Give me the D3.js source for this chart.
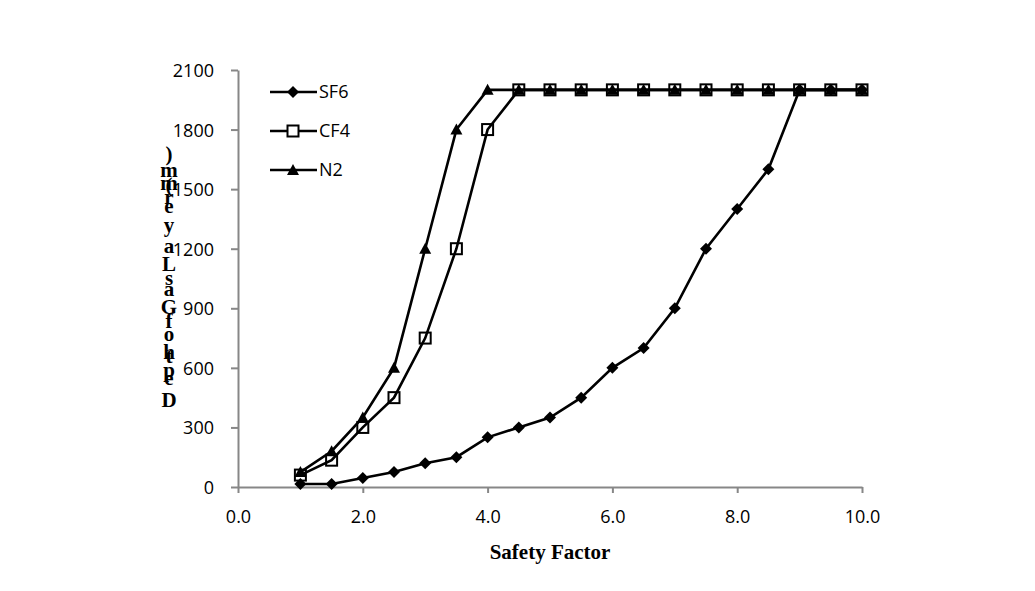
<!DOCTYPE html>
<html><head><meta charset="utf-8">
<script src="https://cdn.jsdelivr.net/npm/d3@7"></script>
<style>body{margin:0;background:#fff}</style>
</head><body>
<svg id="c" width="1035" height="591"></svg>
<script>
const xs = [1,1.5,2,2.5,3,3.5,4,4.5,5,5.5,6,6.5,7,7.5,8,8.5,9,9.5,10];
const sf6 = [15,15,45,75,120,150,250,300,350,450,600,700,900,1200,1400,1600,2000,2000,2000];
const cf4 = [60,135,300,450,750,1200,1800,2000,2000,2000,2000,2000,2000,2000,2000,2000,2000,2000,2000];
const n2  = [75,180,350,600,1200,1800,2000,2000,2000,2000,2000,2000,2000,2000,2000,2000,2000,2000,2000];
const xTicks = [0,2,4,6,8,10];
const yTicks = [0,300,600,900,1200,1500,1800,2100];
const seriesNames = ["SF6","CF4","N2"];
const xTitle = "Safety Factor";
const yTitleChars = ["D","e","p","t","h","o","f","G","a","s","L","a","y","e","r","(","m","m",")"];
const yTitleBase  = [407,385,377,363,359,341,328,314,296,285,271,253,232,213,204,192,190,177,161];

const svg = d3.select("#c");
const x = d3.scaleLinear().domain([0,10]).range([238,862]);
const y = d3.scaleLinear().domain([0,2100]).range([487,70]);
const axisColor = "#878787";

const gx = svg.append("g").attr("transform","translate(0,487)")
  .call(d3.axisBottom(x).tickValues(xTicks).tickFormat(d3.format(".1f")).tickSize(6).tickSizeOuter(0));
const gy = svg.append("g").attr("transform","translate(238,0)")
  .call(d3.axisLeft(y).tickValues(yTicks).tickFormat(d3.format("d")).tickSize(7).tickSizeOuter(0));
[gx,gy].forEach(g=>{
  g.select(".domain").attr("stroke",axisColor).attr("stroke-width",2);
  g.selectAll(".tick line").attr("stroke",axisColor).attr("stroke-width",2);
  g.selectAll(".tick text").attr("fill","#000").attr("font-family","Open Sans").attr("font-size",18);
});
gx.selectAll(".tick text").attr("dy",null).attr("y",36);
gy.selectAll(".tick text").attr("x",-24).attr("dy","0.36em");

const sets = [sf6,cf4,n2];
const line = d3.line().x((d,i)=>x(xs[i])).y(d=>y(d));
function marker(g, type, cx, cy){
  if(type===0){
    g.append("path").attr("d",`M${cx},${cy-6}L${cx+6},${cy}L${cx},${cy+6}L${cx-6},${cy}Z`).attr("fill","#000");
  } else if(type===1){
    g.append("rect").attr("x",cx-5.5).attr("y",cy-5.5).attr("width",11).attr("height",11)
      .attr("fill","none").attr("stroke","#000").attr("stroke-width",2);
  } else {
    g.append("path").attr("d",`M${cx},${cy-6}L${cx+6},${cy+5}L${cx-6},${cy+5}Z`).attr("fill","#000");
  }
}
const order = [0,1,2];
order.forEach(s=>{
  svg.append("path").datum(sets[s]).attr("d",line).attr("fill","none").attr("stroke","#000").attr("stroke-width",2.6);
});
order.forEach(s=>{
  const g = svg.append("g");
  sets[s].forEach((v,i)=>marker(g,s,x(xs[i]),y(v)));
});

// legend
const legY = [92,131,170];
seriesNames.forEach((n,i)=>{
  const g = svg.append("g");
  g.append("line").attr("x1",270).attr("x2",317).attr("y1",legY[i]).attr("y2",legY[i]).attr("stroke","#000").attr("stroke-width",2.6);
  if(i===1) g.append("rect").attr("x",287.5).attr("y",legY[i]-5.5).attr("width",11).attr("height",11).attr("fill","#fff");
  marker(g,i,293,legY[i]);
  g.append("text").attr("x",319).attr("y",legY[i]).attr("dy","0.36em").attr("font-family","Open Sans").attr("font-size",18).text(n);
});

// titles
svg.append("text").attr("x",550).attr("y",559).attr("text-anchor","middle")
  .attr("font-family","Liberation Serif").attr("font-weight","bold").attr("font-size",21).text(xTitle);
const yt = svg.append("g").attr("font-family","Liberation Serif").attr("font-weight","bold").attr("font-size",21);
yTitleChars.forEach((c,i)=>{
  yt.append("text").attr("x",169).attr("y",yTitleBase[i]).attr("text-anchor","middle").text(c);
});
</script>
</body></html>
